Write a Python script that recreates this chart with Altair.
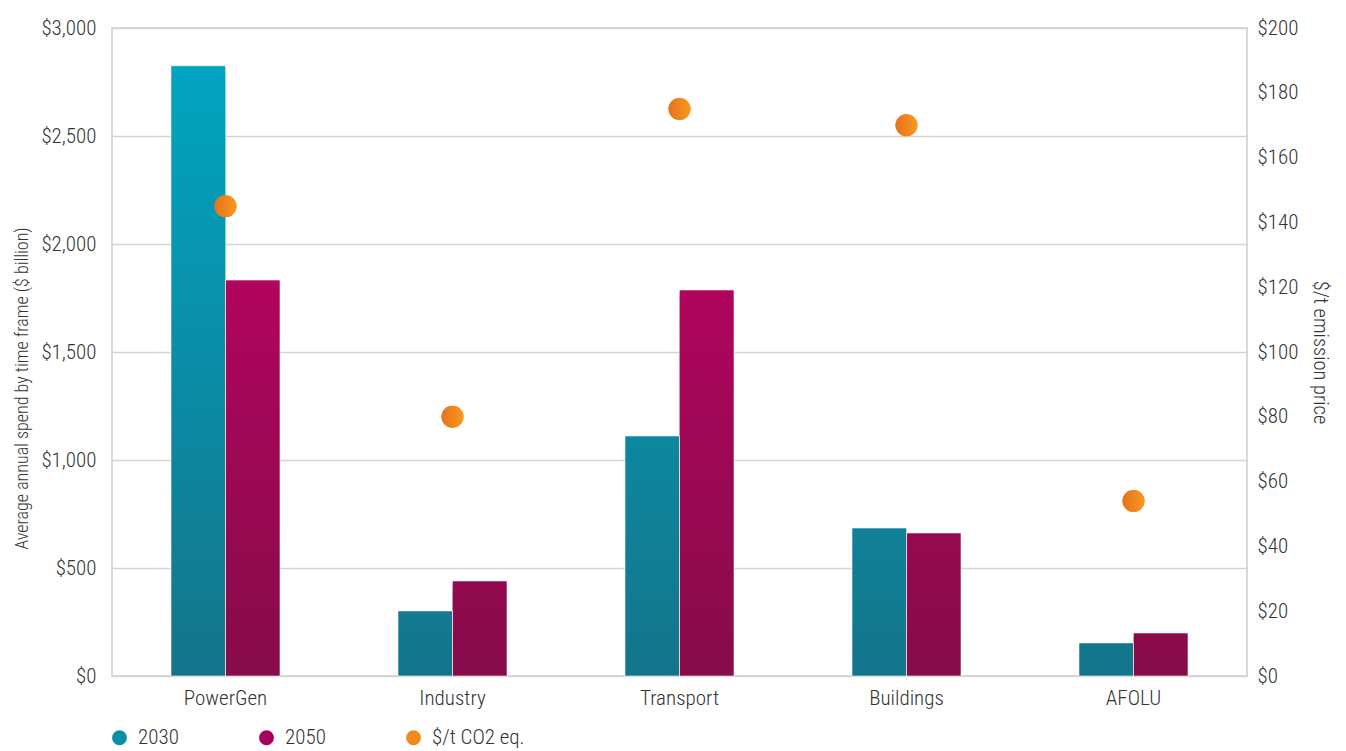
import altair as alt
import numpy as np
import pandas as pd

categories = ["PowerGen", "Industry", "Transport", "Buildings", "AFOLU"]
spend_2030 = [2825, 301, 1111, 685, 153]
spend_2050 = [1833, 440, 1787, 662, 199]
co2_price = [145, 80, 175, 170, 54]
series_names = ["2030", "2050"]
legend_labels = ["2030", "2050", "$/t CO2 eq."]

FONT = "Roboto Condensed, Liberation Sans Narrow, Roboto"
TXT = "#333333"
LBL = 21

# bar table
bars = pd.DataFrame({
    "category": categories * 2,
    "series": ["2030"] * 5 + ["2050"] * 5,
    "value": spend_2030 + spend_2050,
})

# segmented bars for a chart-space vertical gradient
STEP = 15
rows = []
for _, r in bars.iterrows():
    tops = list(np.arange(STEP, r["value"], STEP)) + [r["value"]]
    prev = 0
    for t in tops:
        rows.append({"category": r["category"], "series": r["series"],
                     "top": float(t), "mid": (prev + float(t)) / 2})
        prev = float(t)
seg = pd.DataFrame(rows).sort_values("top", ascending=False)

dots = pd.DataFrame({"category": categories, "price": co2_price,
                     "label": ["$/t CO2 eq."] * 5})

xenc = alt.X("category:N", sort=categories,
             scale=alt.Scale(paddingInner=0.52, paddingOuter=0.26),
             axis=alt.Axis(title=None, labelAngle=0, ticks=False, domain=False,
                           labelPadding=11, labelFontSize=LBL, grid=False,
                           labelFont=FONT, labelColor=TXT, labelFontWeight=300))
xoff = alt.XOffset("series:N", scale=alt.Scale(domain=series_names))

yleft_scale = alt.Scale(domain=[0, 3000], nice=False)
yright_scale = alt.Scale(domain=[0, 200], nice=False)


def seg_layer(series, rng, show_axis):
    y_axis = alt.Axis(title="Average annual spend by time frame ($ billion)",
                      format="$,.0f", values=list(range(0, 3001, 500)),
                      ticks=False, domain=False, labelPadding=16,
                      labelFontSize=LBL, titleFontSize=18, titlePadding=9,
                      titleY=360,
                      labelFont=FONT, titleFont=FONT, labelColor=TXT, titleColor=TXT,
                      labelFontWeight=300, titleFontWeight=300,
                      gridColor="#d4d4d4", gridWidth=1.6) if show_axis else None
    return alt.Chart(seg).transform_filter(
        alt.datum.series == series
    ).mark_bar(strokeWidth=0).encode(
        x=xenc, xOffset=xoff,
        y=alt.Y("top:Q", stack=None, scale=yleft_scale, axis=y_axis),
        color=alt.Color("mid:Q", legend=None,
                        scale=alt.Scale(domain=[0, 3000], range=rng, interpolate="rgb")),
        order=alt.Order("top:Q", sort="descending"),
    )


b2030 = seg_layer("2030", ["#14758A", "#00A7C4"], True)
b2050 = seg_layer("2050", ["#860C4A", "#CC006B"], False)

outline = alt.Chart(bars).mark_bar(fillOpacity=0, stroke="white",
                                   strokeOpacity=0.55, strokeWidth=1).encode(
    x=xenc, xOffset=xoff,
    y=alt.Y("value:Q", stack=None, scale=yleft_scale, axis=None),
)

legend_pts = alt.Chart(dots).mark_circle(size=484, opacity=1).encode(
    x=xenc,
    y=alt.Y("price:Q", scale=yright_scale, axis=None),
    color=alt.Color("label:N",
                    scale=alt.Scale(domain=legend_labels,
                                    range=["#0a8ea5", "#a6005b", "#f08a1c"]),
                    legend=alt.Legend(title=None, orient="none", direction="horizontal",
                                      legendX=-3, legendY=699, symbolType="circle",
                                      symbolSize=220, labelFontSize=LBL,
                                      labelColor=TXT, labelFont=FONT, labelFontWeight=300,
                                      gridAlign="all", columnPadding=25,
                                      symbolOffset=0, labelOffset=8)),
)

dot_layer = alt.Chart(dots).mark_circle(
    size=484, opacity=1,
    fill=alt.LinearGradient(gradient="linear", x1=0, y1=0, x2=1, y2=0,
                            stops=[alt.GradientStop(offset=0, color="#E6711F"),
                                   alt.GradientStop(offset=1, color="#F89A1B")])
).encode(
    x=xenc,
    y=alt.Y("price:Q", scale=yright_scale,
            axis=alt.Axis(title="$/t emission price", orient="right", format="$,.0f",
                          values=list(range(0, 201, 20)), ticks=False, domain=False,
                          grid=False, labelPadding=10, labelFontSize=LBL,
                          titleFontSize=20.5, titlePadding=12,
                          labelFont=FONT, titleFont=FONT, labelColor=TXT, titleColor=TXT,
                          labelFontWeight=300, titleFontWeight=300)),
)

chart = alt.layer(b2030, b2050, outline, legend_pts, dot_layer).resolve_scale(
    y="independent", color="independent"
).properties(
    width=1135, height=648,
    background="white",
    autosize=alt.AutoSizeParams(type="none"),
    padding={"left": 112, "top": 28, "right": 99, "bottom": 75},
).configure_view(
    stroke="#d9d9d9", strokeWidth=2
)

chart.save("out.html", embed_options={"renderer": "svg", "actions": False})
